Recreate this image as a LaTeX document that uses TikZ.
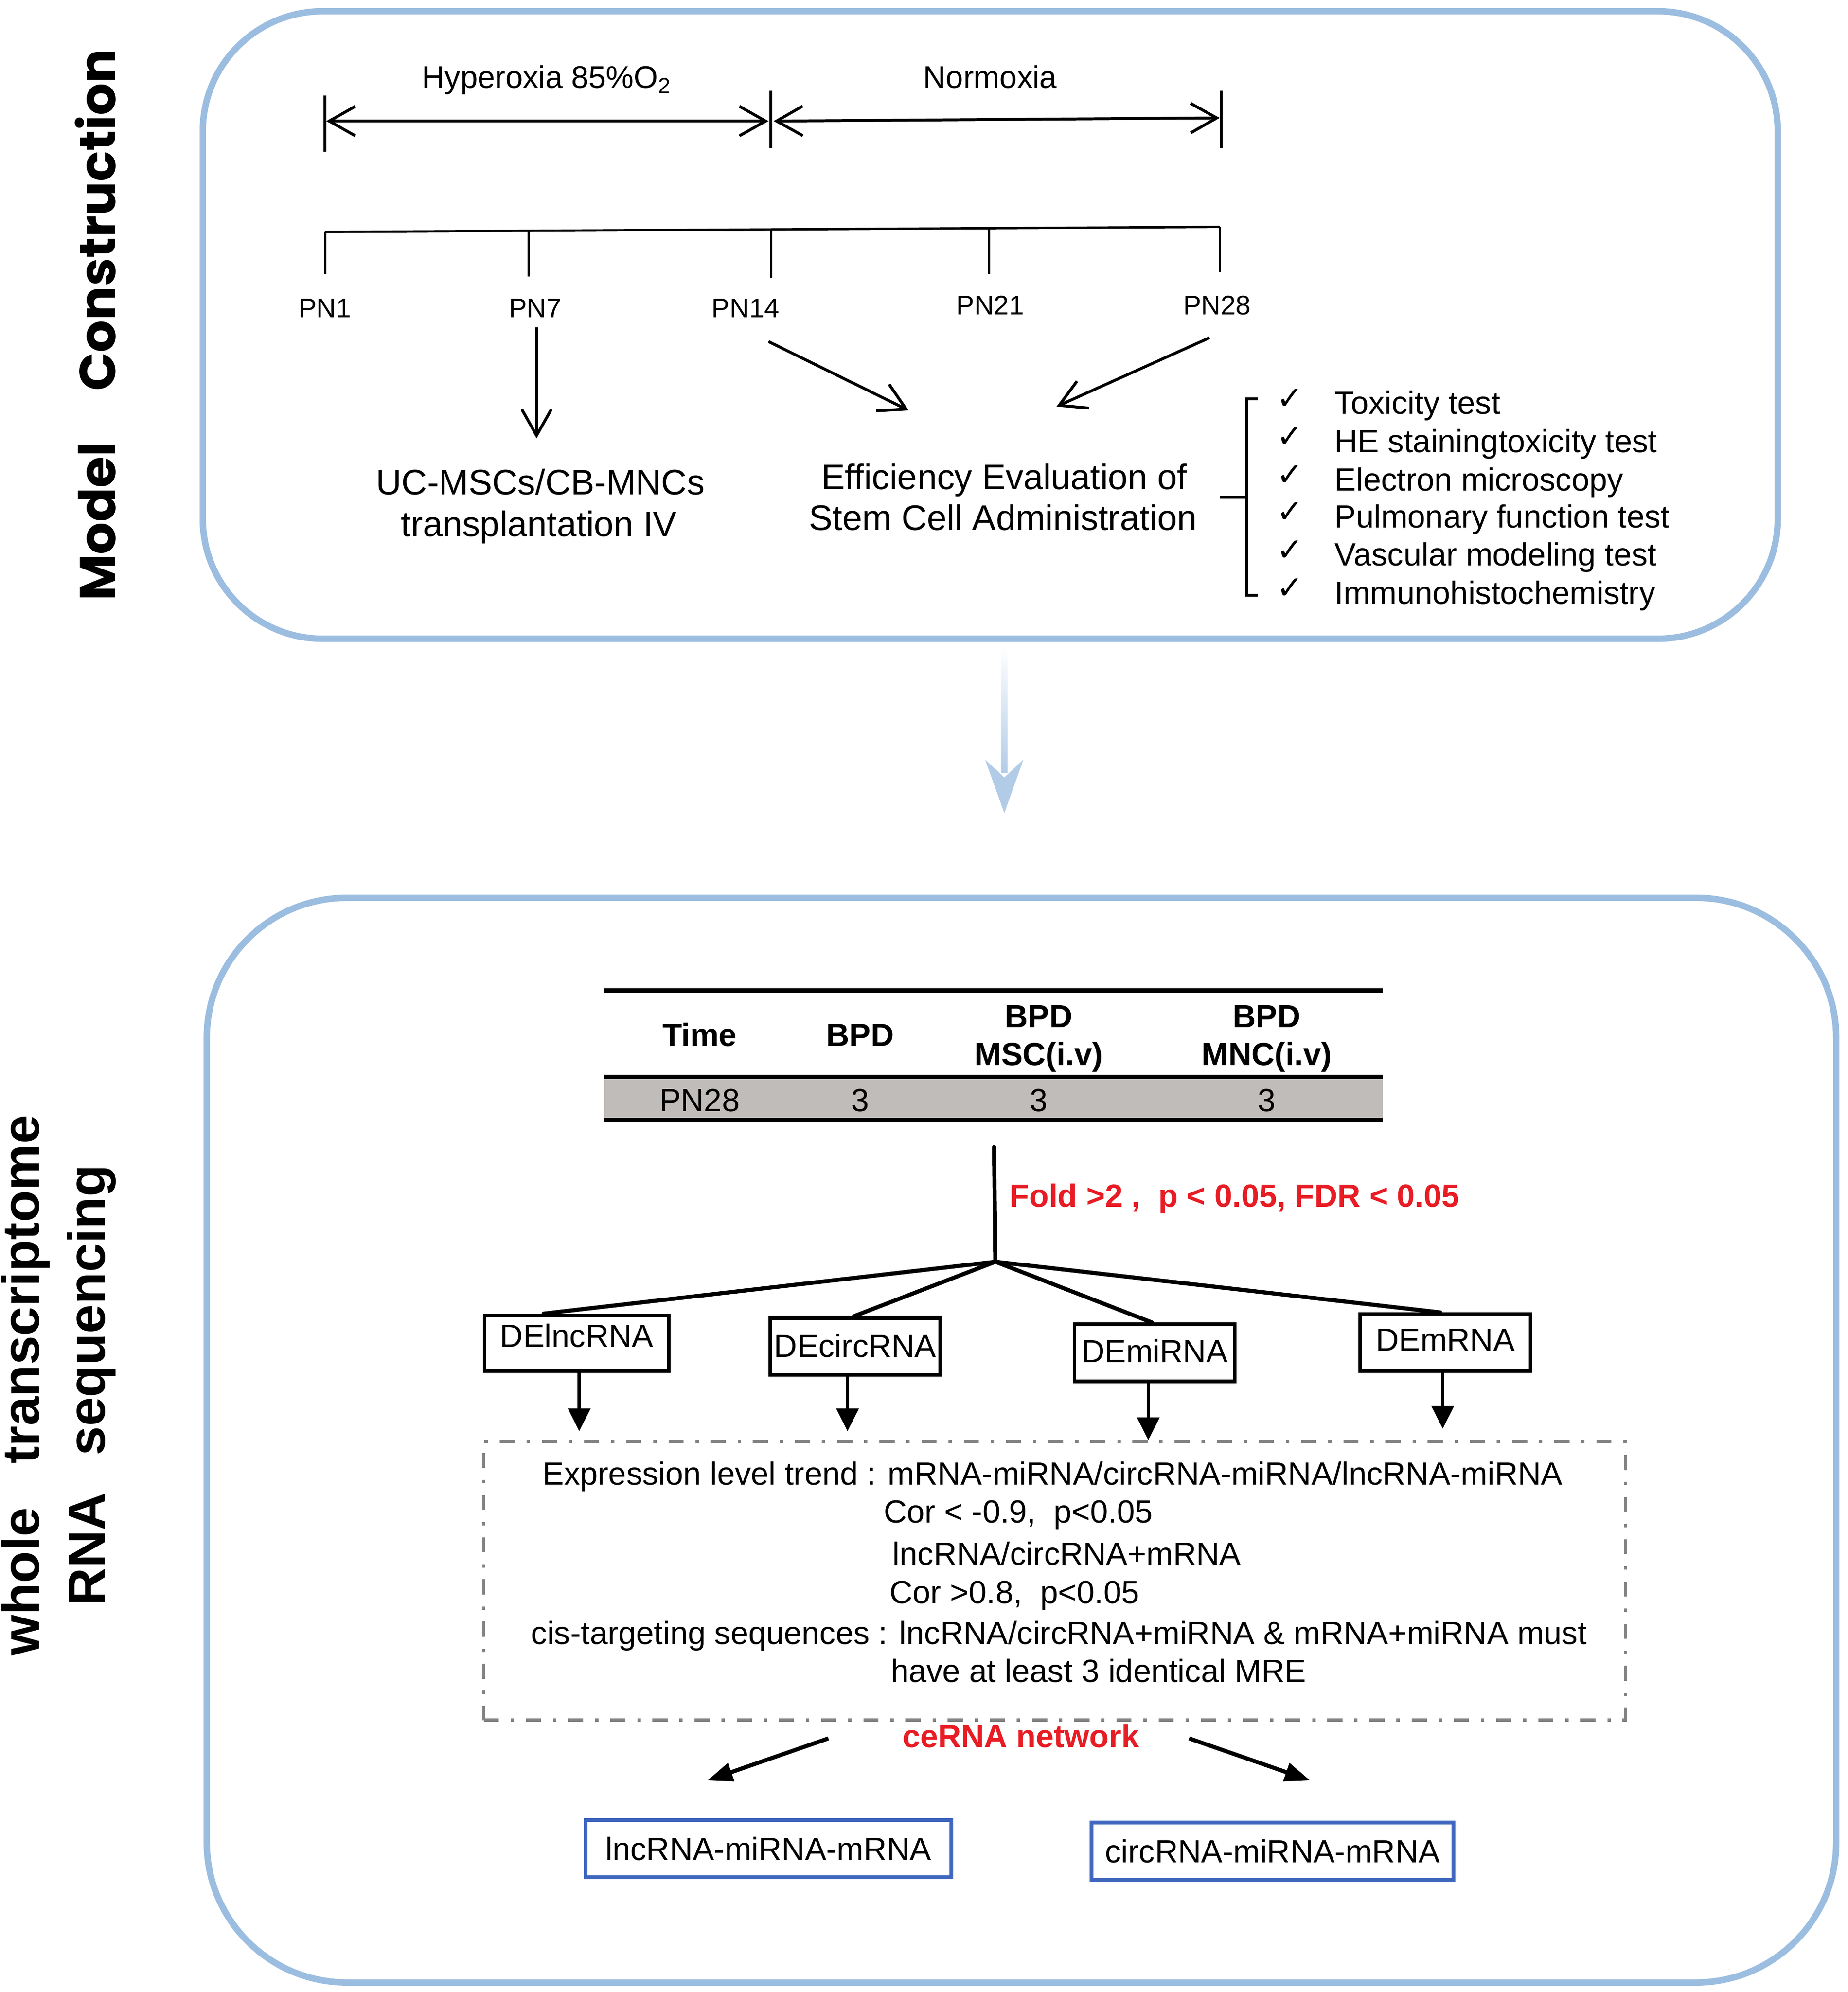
\documentclass[tikz,border=0pt]{standalone}
\usepackage{fontspec}
\setmainfont{Liberation Sans}
\newfontfamily\popfont{Poppins}
\newfontfamily\checkfont{DejaVu Sans}
\usetikzlibrary{arrows.meta,calc}
\definecolor{panelblue}{RGB}{155,189,224}
\definecolor{arrowblue}{RGB}{178,204,231}
\definecolor{rowgray}{RGB}{192,188,185}
\definecolor{dashgray}{RGB}{130,130,130}
\definecolor{boxblue}{RGB}{62,102,190}
\definecolor{redtxt}{RGB}{232,28,36}
\tikzset{
  txt/.style={inner sep=0pt, anchor=base, font=\fontsize{19pt}{23pt}\selectfont},
  bigtxt/.style={inner sep=0pt, anchor=base, font=\fontsize{21pt}{25pt}\selectfont},
  pntxt/.style={inner sep=0pt, anchor=base, font=\fontsize{16pt}{19pt}\selectfont},
  toptxt/.style={inner sep=0pt, anchor=base, font=\fontsize{18.5pt}{22pt}\selectfont},
  hdtxt/.style={inner sep=0pt, anchor=base, font=\fontsize{19pt}{23pt}\selectfont\bfseries},
  redlabel/.style={inner sep=0pt, anchor=base, text=redtxt, font=\fontsize{19pt}{23pt}\selectfont\bfseries},
  chk/.style={inner sep=0pt, anchor=base, font=\checkfont\fontsize{19pt}{22pt}\selectfont},
  panel/.style={draw=panelblue, line width=3.8pt, inner sep=0pt},
  openarrow/.style={line width=1.7pt, -{Straight Barb[length=15.5pt, width=17.5pt]}},
  dblarrow/.style={line width=1.7pt, {Straight Barb[length=15.5pt, width=17.5pt]}-{Straight Barb[length=15.5pt, width=17.5pt]}},
  tickline/.style={line width=1.7pt},
  timeline/.style={line width=1.4pt},
  rule/.style={line width=2.6pt},
  branch/.style={line width=2.4pt, line cap=round},
  debox/.style={draw, line width=2.1pt, inner sep=0pt, anchor=base, font=\fontsize{19pt}{23pt}\selectfont},
  fillarrow/.style={line width=2pt, -{Triangle[length=13.5pt, width=13pt]}},
  dartarrow/.style={line width=2.4pt, -{Triangle[length=15pt, width=11pt]}},
  dashbox/.style={draw=dashgray, line width=2pt, dash pattern=on 9pt off 7pt on 2pt off 7pt, inner sep=0pt},
  bluebox/.style={draw=boxblue, line width=2.3pt, inner sep=0pt, font=\fontsize{19pt}{23pt}\selectfont},
}
\begin{document}
\begin{tikzpicture}[x=0.02655cm, y=-0.02655cm]
\useasboundingbox (0,0) rectangle (1450,1563);

% panels
\node[panel, rounded corners=71pt, minimum width=933.5pt, minimum height=371.9pt] (toppanel) at (777,255) {};
\node[panel, rounded corners=83pt, minimum width=965.8pt, minimum height=642.9pt] (botpanel) at (801.5,1130) {};

% side labels
\node[rotate=90, inner sep=0pt, font=\popfont\bfseries\fontsize{30pt}{36pt}\selectfont] (lab1) at (75,255) {Model\hspace{30pt}Construction};
\node[rotate=90, inner sep=0pt, align=center, font=\bfseries\fontsize{31pt}{39pt}\selectfont] (lab2) at (46,1087) {whole\hspace{26pt}transcriptome\\RNA\hspace{22pt}sequencing};

% oxygen periods
\node[toptxt] (hyp) at (429,69) {Hyperoxia 85\%O\textsubscript{2}};
\node[toptxt] (norm) at (777,69) {Normoxia};
\coordinate (t1a) at (255,75);  \coordinate (t1b) at (255,119);
\coordinate (t2a) at (605,71);  \coordinate (t2b) at (605,116);
\coordinate (t3a) at (958,71);  \coordinate (t3b) at (958,116);
\draw[tickline] (t1a) -- (t1b);
\draw[tickline] (t2a) -- (t2b);
\draw[tickline] (t3a) -- (t3b);
\coordinate (a1s) at (256,95);  \coordinate (a1e) at (603,95);
\coordinate (a2s) at (607,95);  \coordinate (a2e) at (957,92.5);
\draw[dblarrow] (a1s) -- (a1e);
\draw[dblarrow] (a2s) -- (a2e);

% timeline
\coordinate (tl0) at (255,182); \coordinate (tl1) at (957,178);
\draw[timeline] (tl0) -- (tl1);
\coordinate (k1) at (255,215);
\coordinate (k7) at (415,217);
\coordinate (k14) at (605,218);
\coordinate (k21) at (776,215);
\coordinate (k28) at (957,213.6);
\draw[timeline] (tl0) -- (k1);
\draw[timeline] (415,181.1) -- (k7);
\draw[timeline] (605,180) -- (k14);
\draw[timeline] (776,179) -- (k21);
\draw[timeline] (tl1) -- (k28);
\node[pntxt] (pn1) at (255,249) {PN1};
\node[pntxt] (pn7) at (420,249) {PN7};
\node[pntxt] (pn14) at (585,249) {PN14};
\node[pntxt] (pn21) at (777,247) {PN21};
\node[pntxt] (pn28) at (955,247) {PN28};

\coordinate (p7s) at (421,257);  \coordinate (p7e) at (421,344);
\coordinate (p14s) at (603,268); \coordinate (p14e) at (713,322);
\coordinate (p28s) at (949,265); \coordinate (p28e) at (829,319);
\draw[openarrow] (p7s) -- (p7e);
\draw[openarrow] (p14s) -- (p14e);
\draw[openarrow] (p28s) -- (p28e);

\node[bigtxt] (uc1) at (424,388) {UC-MSCs/CB-MNCs};
\node[bigtxt] (uc2) at (423,421) {transplantation IV};
\node[bigtxt] (ef1) at (788,384) {Efficiency Evaluation of};
\node[bigtxt] (ef2) at (787,416) {Stem Cell Administration};

% bracket
\coordinate (brt) at (987,313); \coordinate (brb) at (987,467); \coordinate (brm) at (957,390);
\draw[tickline] (brt) -- (978,313) -- (978,467) -- (brb);
\draw[tickline] (brm) -- (978,390);

\foreach \y/\t [count=\i] in {325/Toxicity test, 355/HE stainingtoxicity test, 385/Electron microscopy, 414/Pulmonary function test, 444/Vascular modeling test, 474/Immunohistochemistry}{
  \node[chk] (ck\i) at (1012,\y-4) {✓};
  \node[txt, anchor=base west] (it\i) at (1047,\y) {\t};
}

% light blue arrow between panels
\shade[top color=white, bottom color=arrowblue] (785.5,508) rectangle (790.5,606);
\fill[arrowblue] (773,596) -- (788,638) -- (803,596) -- (788,610) -- cycle;

% table
\fill[rowgray] (474,845) rectangle (1085,879);
\draw[rule] (474,777) -- (1085,777);
\draw[rule] (474,845) -- (1085,845);
\draw[rule] (474,879) -- (1085,879);
\node[hdtxt] (hTime) at (549,821) {Time};
\node[hdtxt] (hBPD) at (675,821) {BPD};
\node[hdtxt] (hMSCa) at (815,806) {BPD};
\node[hdtxt] (hMSCb) at (815,836) {MSC(i.v)};
\node[hdtxt] (hMNCa) at (994,806) {BPD};
\node[hdtxt] (hMNCb) at (994,836) {MNC(i.v)};
\node[txt] (rPN) at (549,872) {PN28};
\node[txt] (rA) at (675,872) {3};
\node[txt] (rB) at (815,872) {3};
\node[txt] (rC) at (994,872) {3};

% branch
\coordinate (vtop) at (780,900); \coordinate (apex) at (781,990);
\draw[branch] (vtop) -- (apex);
\node[redlabel, anchor=base west] (fold) at (792,947) {Fold >2 ,\ \ p < 0.05, FDR < 0.05};

\node[debox, minimum width=109.2pt, text height=18.8pt, text depth=14.3pt] (lnc) at (452.5,1057) {DElncRNA};
\node[debox, minimum width=100.9pt, text height=23.3pt, text depth=10.5pt] (circ) at (671,1065) {DEcircRNA};
\node[debox, minimum width=94.9pt, text height=22.6pt, text depth=11.3pt] (mi) at (906,1069) {DEmiRNA};
\node[debox, minimum width=100.9pt, text height=21.8pt, text depth=12pt] (m) at (1134,1060) {DEmRNA};

\draw[branch] (apex) -- ($(lnc.north)+(-26,0)$);
\draw[branch] (apex) -- ($(circ.north)+(-1,0)$);
\draw[branch] (apex) -- ($(mi.north)+(-2,0)$);
\draw[branch] (apex) -- ($(m.north)+(-4,0)$);

\coordinate (lncT) at (454.5,1123);
\coordinate (circT) at (665,1123);
\coordinate (miT) at (901,1130);
\coordinate (mT) at (1132,1121);
\draw[fillarrow] (lnc.south -| lncT) -- (lncT);
\draw[fillarrow] (circ.south -| circT) -- (circT);
\draw[fillarrow] (mi.south -| miT) -- (miT);
\draw[fillarrow] (m.south -| mT) -- (mT);

% criteria box
\node[dashbox, minimum width=676.8pt, minimum height=164.9pt] (trend) at (827.5,1240.5) {};
\node[txt] (e1) at (826,1165) {Expression level trend : mRNA-miRNA/circRNA-miRNA/lncRNA-miRNA};
\node[txt] (e2) at (799,1195) {Cor < -0.9,\ \ p<0.05};
\node[txt] (e3) at (837,1228) {lncRNA/circRNA+mRNA};
\node[txt] (e4) at (796,1258) {Cor >0.8,\ \ p<0.05};
\node[txt] (e5) at (831,1290) {cis-targeting sequences : lncRNA/circRNA+miRNA \& mRNA+miRNA must};
\node[txt] (e6) at (862,1320) {have at least 3 identical MRE};
\node[redlabel] (cerna) at (801,1371) {ceRNA network};

% results
\node[bluebox, minimum width=216.8pt, minimum height=33.9pt] (lmm) at (603,1450.5) {lncRNA-miRNA-mRNA};
\node[bluebox, minimum width=214.5pt, minimum height=33.9pt] (cmm) at (998.5,1452.5) {circRNA-miRNA-mRNA};
\coordinate (ceL1) at (650,1364); \coordinate (ceL2) at (555,1397);
\coordinate (ceR1) at (933,1364); \coordinate (ceR2) at (1028,1397);
\draw[dartarrow] (ceL1) -- (ceL2);
\draw[dartarrow] (ceR1) -- (ceR2);
\end{tikzpicture}
\end{document}
